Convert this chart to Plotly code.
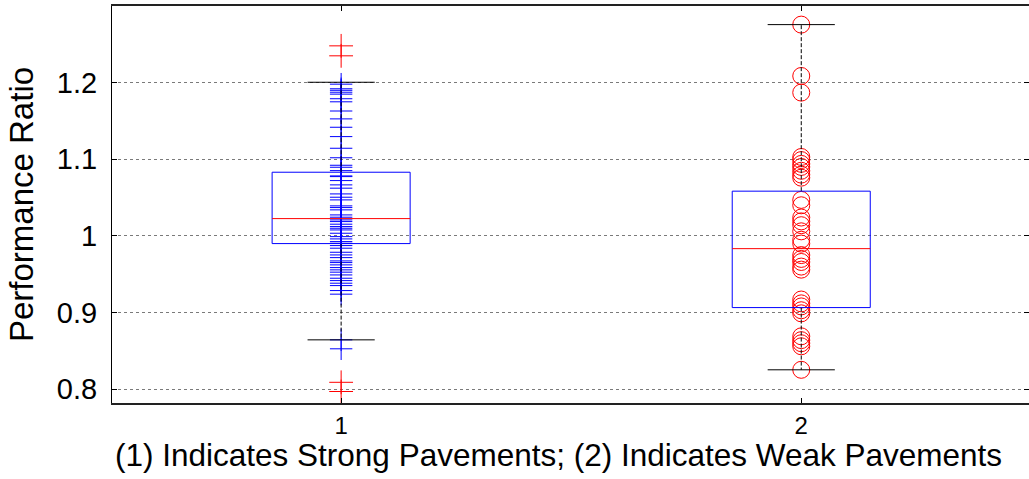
import plotly.graph_objects as go

# Group positions and tick labels
categories = [1, 2]
x_tick_labels = ["1", "2"]
y_tick_values = [0.8, 0.9, 1.0, 1.1, 1.2]
y_tick_labels = ["0.8", "0.9", "1", "1.1", "1.2"]
x_title = "(1) Indicates Strong Pavements; (2) Indicates Weak Pavements"
y_title = "Performance Ratio"

# Performance ratios, group 1 (strong pavements)
strong = [
    1.198, 1.192, 1.190, 1.1875, 1.185, 1.179, 1.175, 1.163, 1.1527, 1.1418,
    1.1296, 1.1144, 1.102, 1.0922, 1.0896, 1.0852, 1.0774, 1.0783, 1.0722,
    1.0666, 1.0623, 1.0548, 1.0505, 1.047, 1.0392, 1.037, 1.034, 1.0274,
    1.0244, 1.0209, 1.0187, 1.0153, 1.0122, 1.0100, 1.0078, 1.0035, 0.9991,
    0.9961, 0.9926, 0.9904, 0.9874, 0.984, 0.9787, 0.9752, 0.9717, 0.9674,
    0.9652, 0.9622, 0.9587, 0.9557, 0.9527, 0.9491, 0.9448, 0.9417, 0.9383,
    0.9352, 0.9287, 0.924, 0.8644, 0.8527,
]
strong_outliers = [1.248, 1.235, 0.809, 0.797]

# Performance ratios, group 2 (weak pavements)
weak = [
    1.2757, 1.2087, 1.187, 1.103, 1.099, 1.094, 1.090, 1.085, 1.080, 1.076,
    1.047, 1.040, 1.024, 1.019, 1.014, 1.006, 0.995, 0.990, 0.975, 0.970,
    0.966, 0.960, 0.956, 0.917, 0.912, 0.908, 0.903, 0.899, 0.869, 0.864,
    0.860, 0.856, 0.8253,
]

# Box statistics per group
q1 = [0.990, 0.9065]
median = [1.0226, 0.9834]
q3 = [1.0831, 1.0584]
lower_whisker = [0.8644, 0.8253]
upper_whisker = [1.2005, 1.2757]

BOX_HALF = 0.15
CAP_HALF = 0.073
FONT = "Liberation Sans, Arial, sans-serif"

fig = go.Figure()

# Individual observations
fig.add_trace(go.Scatter(
    x=[categories[0]] * len(strong), y=strong, mode="markers",
    marker=dict(symbol="cross-thin", size=16, line=dict(color="#0000ff", width=1)),
    hoverinfo="y", showlegend=False,
))
fig.add_trace(go.Scatter(
    x=[categories[0]] * len(strong_outliers), y=strong_outliers, mode="markers",
    marker=dict(symbol="cross-thin", size=17, line=dict(color="#ff0000", width=1)),
    hoverinfo="y", showlegend=False,
))
fig.add_trace(go.Scatter(
    x=[categories[1]] * len(weak), y=weak, mode="markers",
    marker=dict(symbol="circle-open", size=17, color="#ff0000", line=dict(width=1)),
    hoverinfo="y", showlegend=False,
))

for i, c in enumerate(categories):
    # Whiskers (dashed) and caps
    fig.add_trace(go.Scatter(
        x=[c, c, None, c, c], y=[q3[i], upper_whisker[i], None, q1[i], lower_whisker[i]],
        mode="lines", line=dict(color="#000000", width=1, dash="4px,2px"),
        hoverinfo="skip", showlegend=False,
    ))
    fig.add_trace(go.Scatter(
        x=[c - CAP_HALF, c + CAP_HALF, None, c - CAP_HALF, c + CAP_HALF],
        y=[upper_whisker[i], upper_whisker[i], None, lower_whisker[i], lower_whisker[i]],
        mode="lines", line=dict(color="#000000", width=1),
        hoverinfo="skip", showlegend=False,
    ))
    # Interquartile box
    fig.add_trace(go.Scatter(
        x=[c - BOX_HALF, c + BOX_HALF, c + BOX_HALF, c - BOX_HALF, c - BOX_HALF],
        y=[q1[i], q1[i], q3[i], q3[i], q1[i]],
        mode="lines", line=dict(color="#0000ff", width=1),
        hoverinfo="skip", showlegend=False,
    ))
    # Median
    fig.add_trace(go.Scatter(
        x=[c - BOX_HALF, c + BOX_HALF], y=[median[i], median[i]],
        mode="lines", line=dict(color="#ff0000", width=1),
        hoverinfo="skip", showlegend=False,
    ))

fig.update_layout(
    width=1029, height=479,
    margin=dict(l=112, r=0, t=6, b=76),
    plot_bgcolor="white", paper_bgcolor="white",
    font=dict(family=FONT, size=26, color="#000000"),
    showlegend=False,
)
# x-axis caption placed under the tick labels
fig.add_annotation(
    text=x_title, xref="paper", yref="paper",
    x=0.4864, y=-0.131, xanchor="center", yanchor="middle",
    showarrow=False, font=dict(size=31.5),
)
fig.update_xaxes(
    range=[0.502, 2.495],
    tickvals=categories, ticktext=x_tick_labels,
    ticks="inside", ticklen=5, tickcolor="#000000",
    showline=True, linecolor="#222222", linewidth=2, mirror="allticks",
    showgrid=False, zeroline=False,
    ticklabelstandoff=0,
    tickfont=dict(size=24),
)
fig.update_yaxes(
    range=[0.782, 1.300],
    tickvals=y_tick_values, ticktext=y_tick_labels,
    ticks="inside", ticklen=5, tickcolor="#000000",
    showline=True, linecolor="#000000", linewidth=1, mirror="allticks",
    showgrid=True, gridcolor="#7a7a7a", griddash="dot", gridwidth=1,
    zeroline=False,
    ticklabelstandoff=8,
    tickfont=dict(size=29),
    title=dict(text=y_title, font=dict(size=33), standoff=13),
)

fig.write_html("out.html")
